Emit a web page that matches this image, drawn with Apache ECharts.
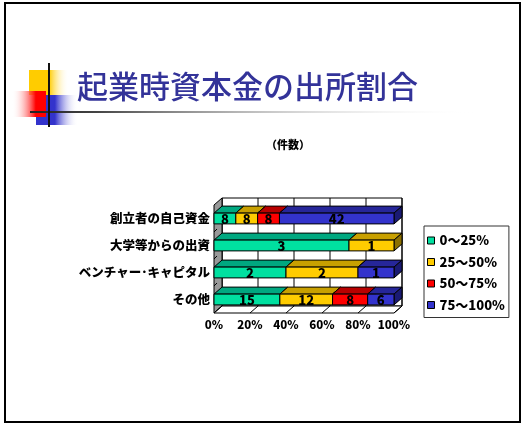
<!DOCTYPE html>
<html><head><meta charset="utf-8">
<script src="https://cdn.jsdelivr.net/npm/echarts@6/dist/echarts.min.js"></script>
<style>html,body{margin:0;padding:0;background:#fff}#c{width:521px;height:423px}</style>
</head><body><div id="c"></div>
<script>
// ---- data ----
const titleText = '起業時資本金の出所割合';
const unitLabel = '（件数）';
const categories = ['創立者の自己資金', '大学等からの出資', 'ベンチャー･キャピタル', 'その他'];
const seriesNames = ['0～25%', '25～50%', '50～75%', '75～100%'];
const count0to25 = [8, 3, 2, 15];
const count25to50 = [8, 1, 2, 12];
const count50to75 = [8, 0, 0, 8];
const count75to100 = [42, 0, 1, 6];
const percentTicks = [0, 20, 40, 60, 80, 100];

// ---- styles ----
const FONT = '"Noto Sans CJK JP", "Noto Sans", sans-serif';
const frontColors = ['#00E0A0', '#FFCC00', '#FF0000', '#3333CC'];
const topColors = ['#00A880', '#C8A000', '#B80000', '#262699'];
const sideColors = ['#007A5C', '#8C7000', '#800000', '#1A1A73'];
const DX = 8, DY = 7;

const counts = [count0to25, count25to50, count50to75, count75to100];
const totals = categories.map((_, c) => counts.reduce((s, arr) => s + arr[c], 0));

function segData(si) {
  const out = [];
  categories.forEach((_, c) => {
    let before = 0;
    for (let k = 0; k < si; k++) before += counts[k][c];
    const v = counts[si][c];
    if (v > 0) {
      out.push([before / totals[c] * 100, (before + v) / totals[c] * 100, c, v]);
    }
  });
  return out;
}

function barRender(si) {
  return function (params, api) {
    const c = api.value(2);
    const a = api.coord([api.value(0), c]);
    const b = api.coord([api.value(1), c]);
    const band = api.size([0, 1])[1];
    const h = band * 0.4;
    const yt = a[1] - h / 2, yb = a[1] + h / 2;
    const x0 = a[0], x1 = b[0];
    const ln = { stroke: '#000', lineWidth: 1 };
    return {
      type: 'group',
      children: [
        { type: 'polygon', shape: { points: [[x0, yt], [x1, yt], [x1 + DX, yt - DY], [x0 + DX, yt - DY]] },
          style: Object.assign({ fill: topColors[si] }, ln) },
        { type: 'polygon', shape: { points: [[x1, yt], [x1 + DX, yt - DY], [x1 + DX, yb - DY], [x1, yb]] },
          style: Object.assign({ fill: sideColors[si] }, ln) },
        { type: 'rect', shape: { x: x0, y: yt, width: x1 - x0, height: h },
          style: Object.assign({ fill: frontColors[si] }, ln) },
        { type: 'text', style: { text: String(api.value(3)), x: (x0 + x1) / 2, y: a[1] + 0.5,
          align: 'center', verticalAlign: 'middle', font: '900 13px ' + FONT, fill: '#000' } }
      ]
    };
  };
}

function wallRender(params, api) {
  const cs = params.coordSys;
  const L = cs.x, T = cs.y, R = cs.x + cs.width, B = cs.y + cs.height;
  const ch = [];
  ch.push({ type: 'rect', shape: { x: L + DX, y: T - DY, width: R - L, height: B - T },
    style: { fill: '#fff', stroke: '#000', lineWidth: 1 } });
  percentTicks.forEach(t => {
    const x = api.coord([t, 0])[0] + DX;
    ch.push({ type: 'line', shape: { x1: x, y1: T - DY, x2: x, y2: B - DY }, style: { stroke: '#000', lineWidth: 1 } });
  });
  ch.push({ type: 'polygon', shape: { points: [[L, T], [L + DX, T - DY], [L + DX, B - DY], [L, B]] },
    style: { fill: '#999999', stroke: '#000', lineWidth: 1 } });
  ch.push({ type: 'polygon', shape: { points: [[L, B], [R, B], [R + DX, B - DY], [L + DX, B - DY]] },
    style: { fill: '#fff', stroke: '#000', lineWidth: 1 } });
  percentTicks.forEach(t => {
    const x = api.coord([t, 0])[0];
    ch.push({ type: 'line', shape: { x1: x, y1: B, x2: x + DX, y2: B - DY }, style: { stroke: '#000', lineWidth: 1 } });
  });
  const band = (B - T) / categories.length;
  for (let i = 1; i < categories.length; i++) {
    const y = T + band * i;
    ch.push({ type: 'line', shape: { x1: L, y1: y, x2: L + 3, y2: y - 3 }, style: { stroke: '#000', lineWidth: 1 } });
  }
  return { type: 'group', children: ch };
}

const series = [{
  type: 'custom', name: 'walls', renderItem: wallRender, data: [[0, 0]],
  encode: { x: 0, y: 1 }, z: 1, silent: true
}];
seriesNames.forEach((n, si) => {
  series.push({
    type: 'custom', name: n, renderItem: barRender(si), data: segData(si),
    encode: { x: [0, 1], y: 2 }, z: 2, itemStyle: { color: frontColors[si] }
  });
});

const chart = echarts.init(document.getElementById('c'), null, { renderer: 'canvas' });
chart.setOption({
  animation: false,
  backgroundColor: '#fff',
  grid: { left: 214, top: 205, width: 180, height: 108 },
  xAxis: {
    type: 'value', min: 0, max: 100, interval: 20,
    axisLine: { show: false }, axisTick: { show: false }, splitLine: { show: false },
    axisLabel: { formatter: '{value}%', margin: 6, color: '#000', fontWeight: 900, fontSize: 11.5, fontFamily: FONT }
  },
  yAxis: {
    type: 'category', inverse: true, data: categories,
    axisLine: { show: false }, axisTick: { show: false }, splitLine: { show: false },
    axisLabel: { margin: 4, color: '#000', fontWeight: 900, fontSize: 12.5, fontFamily: FONT }
  },
  legend: {
    orient: 'vertical', left: 424, top: 226, itemWidth: 7, itemHeight: 7, itemGap: 8.5,
    padding: [8, 4, 6, 3], borderColor: '#333', borderWidth: 1, icon: 'rect',
    itemStyle: { borderColor: '#000', borderWidth: 1 },
    textStyle: { fontSize: 13, fontWeight: 900, color: '#000', fontFamily: FONT },
    data: seriesNames
  },
  series: series,
  graphic: [
    { type: 'rect', shape: { x: 5, y: 3, width: 515, height: 419 }, style: { fill: 'none', stroke: '#000', lineWidth: 2 }, z: 10 },
    { type: 'rect', shape: { x: 29, y: 70, width: 40, height: 25 },
      style: { fill: { type: 'linear', x: 0, y: 0, x2: 1, y2: 0, colorStops: [
        { offset: 0, color: '#FFCC00' }, { offset: 0.5, color: '#FFCC00' }, { offset: 1, color: 'rgba(255,255,255,0)' }] } } },
    { type: 'rect', shape: { x: 36, y: 95, width: 42, height: 30 },
      style: { fill: { type: 'linear', x: 0, y: 0, x2: 1, y2: 0, colorStops: [
        { offset: 0, color: '#3333CC' }, { offset: 0.45, color: '#3333CC' }, { offset: 1, color: 'rgba(255,255,255,0)' }] } } },
    { type: 'rect', shape: { x: 12, y: 91, width: 34, height: 26 },
      style: { fill: { type: 'linear', x: 0, y: 0, x2: 1, y2: 0, colorStops: [
        { offset: 0, color: 'rgba(255,255,255,0)' }, { offset: 0.7, color: '#FF0000' }, { offset: 1, color: '#FF0000' }] } } },
    { type: 'rect', shape: { x: 30, y: 111, width: 445, height: 2 },
      style: { fill: { type: 'linear', x: 0, y: 0, x2: 1, y2: 0, colorStops: [
        { offset: 0, color: '#222' }, { offset: 0.15, color: '#444' }, { offset: 1, color: 'rgba(255,255,255,0)' }] } } },
    { type: 'rect', shape: { x: 48, y: 63, width: 2, height: 64 }, style: { fill: '#111' } },
    { type: 'text', style: { text: titleText, x: 77, y: 86, verticalAlign: 'middle', font: '500 31px ' + FONT, fill: '#333399' } },
    { type: 'text', style: { text: unitLabel, x: 288, y: 145, align: 'center', verticalAlign: 'middle', font: '900 11px ' + FONT, fill: '#000' } }
  ]
});
</script>
</body></html>
